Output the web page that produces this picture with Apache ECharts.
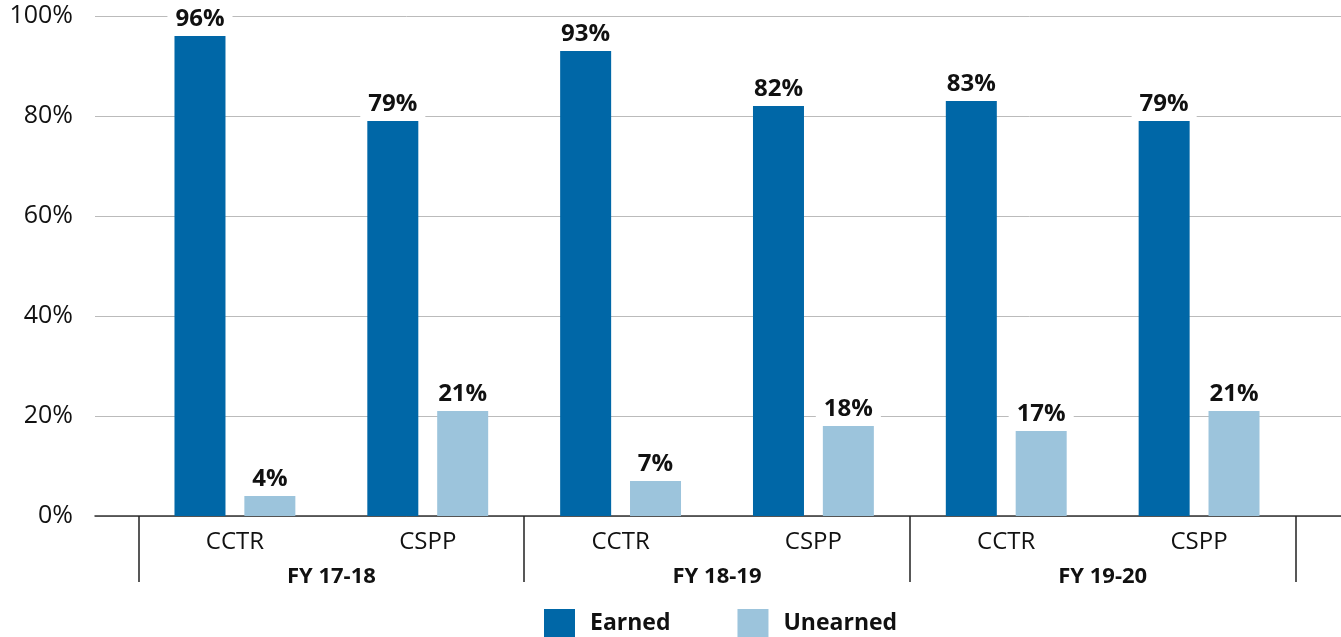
<!DOCTYPE html>
<html><head><meta charset="utf-8">
<script src="https://cdn.jsdelivr.net/npm/echarts@6/dist/echarts.min.js"></script>
<style>html,body{margin:0;padding:0;background:#fff}#c{width:1341px;height:637px}</style>
</head><body><div id="c"></div>
<script>
const categories = ['CCTR','CSPP','CCTR','CSPP','CCTR','CSPP'];
const years = ['FY 17-18','FY 18-19','FY 19-20'];
const earned = [96, 79, 93, 82, 83, 79];
const unearned = [4, 21, 7, 18, 17, 21];
const yTicks = [0, 20, 40, 60, 80, 100];

const FONT = '"Open Sans"';
const chart = echarts.init(document.getElementById('c'));
const lbl = {
  show: true, position: 'top', distance: 4,
  formatter: p => p.value + '%',
  fontFamily: FONT, fontWeight: 'bold', fontSize: 24, lineHeight: 26, color: '#111',
  backgroundColor: '#fff', padding: [0, 8, 0, 8]
};
chart.setOption({
  animation: false,
  grid: [
    {left: 95, right: 0, top: 16, bottom: 121, containLabel: false, outerBoundsMode: 'none'},
    {left: 138.5, right: 45.5, top: 16, bottom: 121, containLabel: false, outerBoundsMode: 'none'}
  ],
  xAxis: [
    {gridIndex: 0, type: 'category', data: [''], axisLine: {lineStyle: {color: '#333', width: 1.5}},
     axisTick: {show: false}, axisLabel: {show: false}},
    {gridIndex: 1, type: 'category', data: categories, axisLine: {show: false}, axisTick: {show: false},
     axisLabel: {fontFamily: FONT, fontSize: 24, lineHeight: 26, color: '#111', margin: 13}},
    {gridIndex: 1, type: 'category', data: years, position: 'bottom', axisLine: {show: false},
     axisTick: {show: true, length: 66, lineStyle: {color: '#222', width: 1.5}},
     axisLabel: {fontFamily: FONT, fontWeight: 'bold', fontSize: 22, lineHeight: 24, color: '#111', margin: 49}}
  ],
  yAxis: [
    {gridIndex: 0, type: 'value', min: yTicks[0], max: yTicks[yTicks.length-1], interval: 20,
     axisLine: {show: false}, axisTick: {show: false},
     axisLabel: {formatter: v => v + '%', fontFamily: FONT, fontSize: 25, lineHeight: 27, color: '#111', margin: 22, padding: [10, 0, 0, 0]},
     splitLine: {lineStyle: {color: '#bbb', width: 1}}},
    {gridIndex: 1, type: 'value', min: 0, max: 100, interval: 20, show: false}
  ],
  legend: {
    left: 544, bottom: 0, padding: 0, itemWidth: 31, itemHeight: 28, itemGap: 67, icon: 'rect',
    textStyle: {fontFamily: FONT, fontWeight: 'bold', fontSize: 23, color: '#111', padding: [0, 0, 0, 10]},
    data: ['Earned', 'Unearned']
  },
  series: [
    {name: 'Earned', type: 'bar', xAxisIndex: 1, yAxisIndex: 1, data: earned, barWidth: 51, barGap: '37%',
     itemStyle: {color: '#0067a7'}, label: lbl},
    {name: 'Unearned', type: 'bar', xAxisIndex: 1, yAxisIndex: 1, data: unearned, barWidth: 51,
     itemStyle: {color: '#9cc4dc'}, label: lbl}
  ]
});
</script></body></html>
